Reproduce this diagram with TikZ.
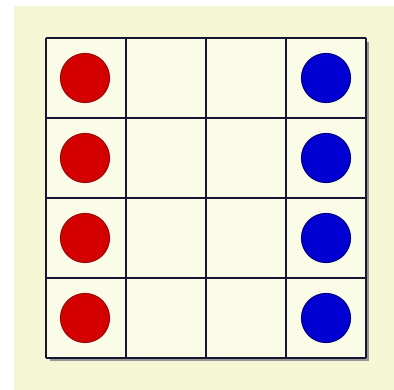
\documentclass[tikz,border=0pt]{standalone}
\definecolor{bgyellow}{RGB}{245,247,212}
\definecolor{cellfill}{RGB}{251,252,232}
\definecolor{gridline}{RGB}{22,22,50}
\definecolor{redpiece}{RGB}{212,0,0}
\definecolor{rededge}{RGB}{160,10,10}
\definecolor{bluepiece}{RGB}{0,0,210}
\definecolor{blueedge}{RGB}{0,0,140}
\definecolor{shadowgray}{RGB}{150,150,150}
\tikzset{
  redstone/.style={circle,fill=redpiece,draw=rededge,line width=1.2pt,minimum size=49pt,inner sep=0pt},
  bluestone/.style={circle,fill=bluepiece,draw=blueedge,line width=1.2pt,minimum size=49pt,inner sep=0pt},
  gridstroke/.style={draw=gridline,line width=2.6pt}
}
\begin{document}
\begin{tikzpicture}[x=1pt,y=-1pt]
\useasboundingbox (0,0) rectangle (394,390);
\fill[white] (0,0) rectangle (394,390);
\fill[bgyellow] (14,6) rectangle (394,390);
% shadow
\fill[shadowgray] (50,356) rectangle (369,361);
\fill[shadowgray] (365,42) rectangle (369,361);
\fill[cellfill] (46,38) rectangle (366,358);
\foreach \x in {46,126,206,286,366}
  \draw[gridstroke] (\x,38) -- (\x,358);
\foreach \y in {38,118,198,278,358}
  \draw[gridstroke] (46,\y) -- (366,\y);
\foreach \r/\y in {1/78,2/158,3/238,4/318}{
  \node[redstone] (red\r) at (85,\y) {};
  \node[bluestone] (blue\r) at (326,\y) {};
}
\end{tikzpicture}
\end{document}
